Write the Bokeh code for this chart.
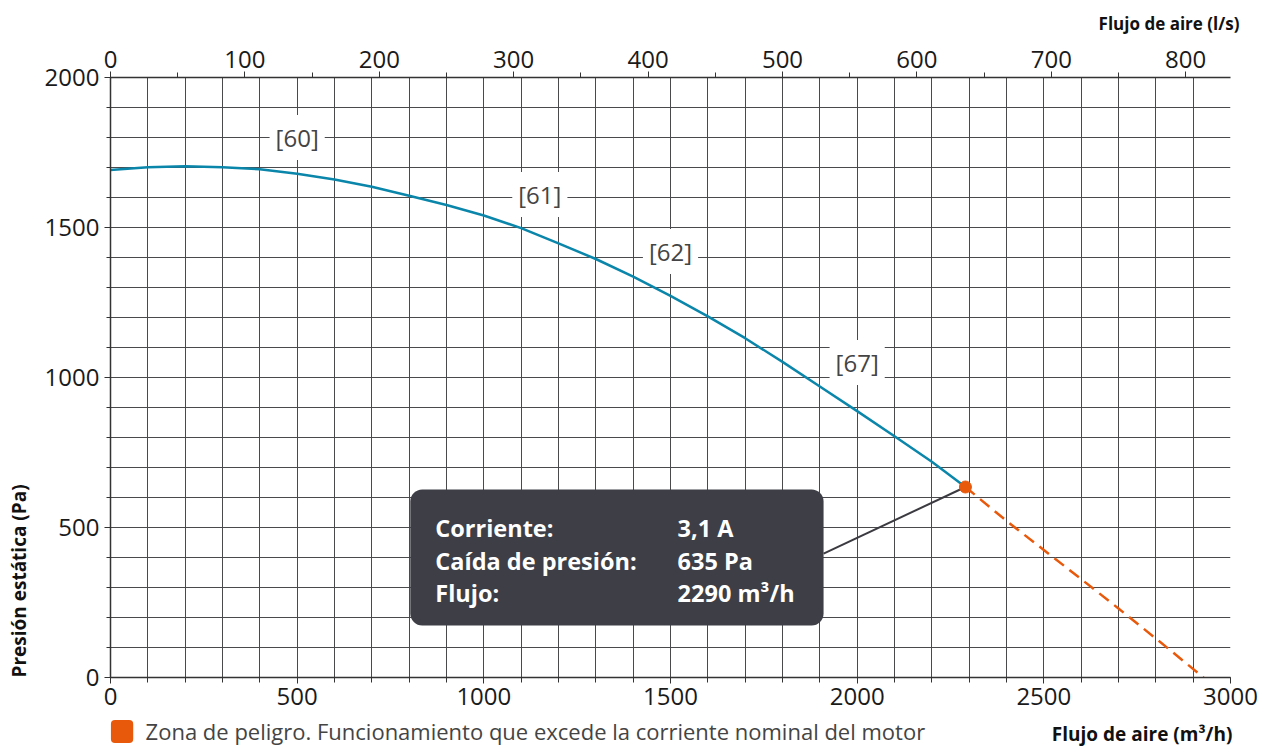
from math import pi
from bokeh.plotting import figure
from bokeh.models import Range1d, LinearAxis, SingleIntervalTicker, Label, ColumnDataSource
from bokeh.core.properties import value
from bokeh.embed import file_html
from bokeh.resources import INLINE

# ---- data ----
flow_m3h = [0, 100, 200, 300, 400, 500, 600, 700, 800, 900, 1000, 1100, 1200, 1300,
            1400, 1500, 1600, 1700, 1800, 1900, 2000, 2100, 2200, 2290]
pressure_pa = [1692, 1701, 1704, 1701, 1694, 1679, 1660, 1636, 1606, 1575, 1540, 1498, 1447, 1395,
               1336, 1272, 1204, 1131, 1052, 970, 888, 804, 719, 635]
danger_flow = [2290, 2400, 2500, 2600, 2700, 2800, 2928]
danger_pressure = [635, 522, 425, 328, 230, 130, 0]
op_flow = [2290]
op_pressure = [635]
curve_labels = ["[60]", "[61]", "[62]", "[67]"]
label_flow = [500, 1150, 1500, 2000]
label_pressure = [1800, 1610, 1420, 1050]
tip_keys = ["Corriente:", "Caída de presión:", "Flujo:"]
tip_values = ["3,1 A", "635 Pa", "2290 m³/h"]
M3H_PER_LS = 3.6

BLUE = "#0b86ab"
ORANGE = "#e8590c"
GRID = "#4a4a4d"
DARK = "#3d3e46"
FONT = "Open Sans"

p = figure(frame_width=1120, frame_height=600,
           x_range=Range1d(0, 3000), y_range=Range1d(0, 2000),
           output_backend="svg", toolbar_location=None,
           min_border_left=110, min_border_right=32, min_border_top=77, min_border_bottom=69,
           outline_line_color=None, background_fill_color="white")

p.extra_x_ranges = {"ls": Range1d(0, 3000 / M3H_PER_LS)}
top_axis = LinearAxis(x_range_name="ls", ticker=SingleIntervalTicker(interval=100, num_minor_ticks=2))
p.add_layout(top_axis, "above")
bottom_axis = p.below[0]
left_axis = p.left[0]
bottom_axis.ticker = SingleIntervalTicker(interval=500, num_minor_ticks=5)
left_axis.ticker = SingleIntervalTicker(interval=500, num_minor_ticks=5)

for ax in (top_axis, bottom_axis, left_axis):
    ax.axis_line_color = "#333333"
    ax.axis_line_width = 1.5
    ax.major_tick_line_color = "#333333"
    ax.minor_tick_line_color = "#333333"
    ax.major_tick_in = 0
    ax.minor_tick_in = 0
    ax.major_tick_out = 6
    ax.minor_tick_out = 5
    ax.major_label_text_font = FONT
    ax.major_label_text_font_size = "24px"
    ax.major_label_text_color = "#1a1a1a"
    ax.major_label_standoff = 4
left_axis.major_label_standoff = 5
left_axis.minor_tick_out = 4

for g in (p.xgrid, p.ygrid):
    g.grid_line_color = GRID
    g.grid_line_width = 1
    g.minor_grid_line_color = GRID
    g.minor_grid_line_width = 1

# curve labels with white background
lab_src = ColumnDataSource(dict(x=label_flow, y=label_pressure, t=curve_labels))
p.text(x="x", y="y", text="t", source=lab_src, text_font=value(FONT), text_font_size="24px",
       text_color="#444444", text_align="center", text_baseline="middle",
       background_fill_color="white", padding=6)

# curves
p.line(flow_m3h, pressure_pa, line_color=BLUE, line_width=2.5)
p.line(danger_flow, danger_pressure, line_color=ORANGE, line_width=2.5, line_dash="12 7")

# tooltip box
p.line([1910, op_flow[0]], [413, op_pressure[0]], line_color="#3a3a40", line_width=2)
p.quad(left=[803], right=[1910], bottom=[173], top=[627], fill_color=DARK, line_color=None,
       border_radius=12)
p.text(x=[870] * 3, y=[500, 390, 283], text=tip_keys, text_font=value(FONT), text_font_size="23.5px",
       text_font_style="bold", text_color="white", text_align="left", text_baseline="middle")
p.text(x=[1519] * 3, y=[500, 390, 283], text=tip_values, text_font=value(FONT), text_font_size="23.5px",
       text_font_style="bold", text_color="white", text_align="left", text_baseline="middle")

p.scatter(op_flow, op_pressure, size=12, color=ORANGE)

# axis titles and legend (placed in side panels so they are not clipped to the frame)
p.add_layout(Label(x=-246, y=0, text="Presión estática (Pa)", angle=pi / 2,
                   text_align="left", text_baseline="middle", text_font=FONT,
                   text_font_style="bold", text_font_size="19px", text_color="#111111"), "left")
p.add_layout(Label(x=3024, y=2180, text="Flujo de aire (l/s)", text_align="right",
                   text_baseline="middle", text_font=FONT, text_font_style="bold",
                   text_font_size="17px", text_color="#111111"), "above")
p.add_layout(Label(x=3005, y=-187, text="Flujo de aire (m³/h)", text_align="right",
                   text_baseline="middle", text_font=FONT, text_font_style="bold",
                   text_font_size="19px", text_color="#111111"), "below")
p.add_layout(Label(x=31, y=-180, text=" ", text_font_size="1px", text_align="center",
                   text_baseline="middle", background_fill_color=ORANGE, padding=11,
                   border_radius=4), "below")
p.add_layout(Label(x=94, y=-179, text="Zona de peligro. Funcionamiento que excede la corriente nominal del motor",
                   text_align="left", text_baseline="middle", text_font=FONT, text_font_size="22px",
                   text_color="#444444"), "below")

open("out.html", "w").write(file_html(p, INLINE))
